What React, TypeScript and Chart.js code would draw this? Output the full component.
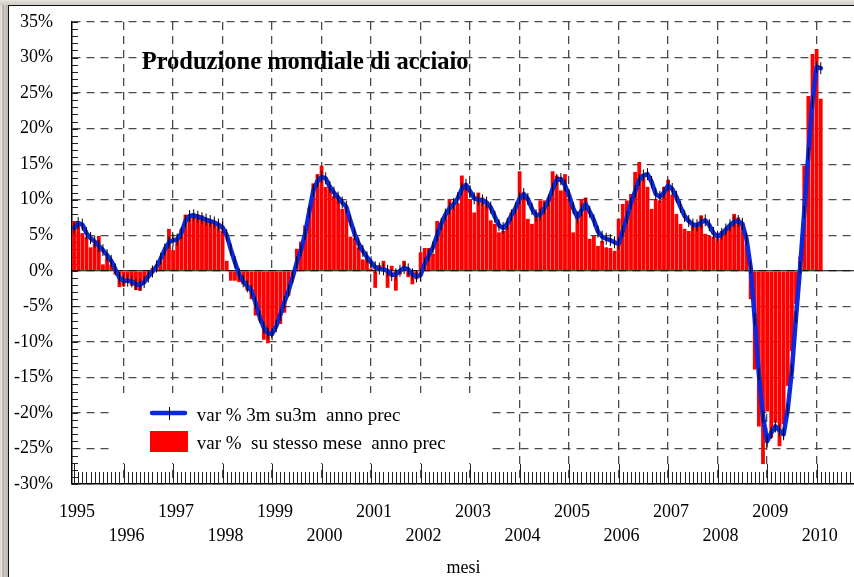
import React, { useEffect, useRef } from 'react';
import { Chart, registerables } from 'chart.js';

Chart.register(...registerables);

// ---------- data ----------
const TITLE = 'Produzione mondiale di acciaio';
const X_TITLE = 'mesi';
const YEAR_LABELS = [
  '1995', '1996', '1997', '1998', '1999', '2000', '2001', '2002',
  '2003', '2004', '2005', '2006', '2007', '2008', '2009', '2010',
];
const Y_MIN = -30;
const Y_MAX = 35;
const Y_STEP = 5;
const SERIES_LINE_LABEL = 'var % 3m su3m  anno prec';
const SERIES_BAR_LABEL = 'var %  su stesso mese  anno prec';

// monthly, Jan 1995 .. Feb 2010: var % su stesso mese anno prec
const MONTHLY_YOY = [
  7.0, 6.9, 5.3, 4.8, 3.3, 3.8, 4.9, 0.9, 1.9, 0.9, -0.5, -2.3,
  -2.2, -1.5, -2.1, -2.7, -2.8, -1.6, -0.8, 0.4, 0.7, 1.4, 3.3, 5.9,
  2.9, 4.3, 5.9, 7.9, 7.9, 8.0, 7.9, 7.8, 7.3, 7.1, 7.0, 6.4,
  5.6, 1.4, -1.4, -1.4, -1.6, -1.9, -2.8, -4.0, -6.3, -7.0, -9.7, -10.2,
  -8.8, -7.5, -7.5, -5.9, -3.5, -1.0, 3.1, 4.1, 6.4, 8.8, 12.3, 13.6,
  14.8, 11.8, 12.0, 10.5, 10.3, 8.7, 8.8, 4.8, 4.6, 3.3, 1.6, 2.0,
  0.3, -2.4, 0.8, 1.4, -2.4, 0.7, -2.8, -0.5, 1.4, -0.9, -1.9, -1.2,
  2.6, 3.2, 3.2, 2.4, 7.0, 6.4, 8.0, 10.1, 9.4, 9.5, 13.4, 12.2,
  10.0, 8.2, 11.0, 10.3, 9.6, 7.1, 6.6, 5.4, 5.6, 6.8, 8.2, 8.9,
  14.0, 10.8, 7.3, 6.6, 8.0, 9.9, 9.9, 10.3, 14.0, 13.4, 11.3, 13.6,
  10.1, 5.4, 7.8, 10.1, 10.3, 4.5, 4.9, 3.5, 4.2, 3.3, 3.2, 2.8,
  7.3, 9.4, 9.9, 10.8, 13.9, 15.3, 13.6, 11.8, 8.7, 10.1, 9.9, 11.8,
  12.8, 10.7, 8.0, 6.6, 5.9, 5.6, 6.4, 6.5, 7.8, 5.2, 4.9, 4.8,
  4.5, 5.6, 5.9, 6.4, 8.0, 7.5, 6.8, 3.7, -4.0, -13.9, -21.9, -27.2,
  -19.8, -23.5, -21.4, -24.7, -21.6, -16.2, -11.3, -4.7, 2.0, 14.8, 24.6, 30.5,
  31.2, 24.2,
];

// monthly, Jan 1995 .. Feb 2010: var % 3m su 3m anno prec
const THREE_MONTH_YOY = [
  6.0, 6.7, 6.5, 5.3, 4.6, 4.1, 3.5, 2.9, 2.2, 1.4, 0.2, -1.0,
  -1.4, -1.4, -1.5, -1.9, -2.0, -1.6, -0.8, -0.1, 0.6, 1.7, 3.0, 4.0,
  4.3, 4.4, 5.3, 7.0, 7.7, 7.8, 7.6, 7.4, 7.2, 7.0, 6.8, 6.5,
  6.1, 5.0, 3.0, 1.2, -0.5, -1.5, -2.2, -2.8, -4.5, -6.5, -8.0, -8.8,
  -8.9, -7.8, -6.2, -4.4, -2.8, -0.9, 1.2, 2.9, 5.2, 8.3, 11.3, 12.6,
  13.2, 13.0, 11.8, 11.0, 10.3, 9.6, 9.0, 7.0, 5.2, 3.8, 2.8, 1.9,
  1.2, 0.5, 0.3, 0.2, 0.0, -0.6, -0.5, 0.0, 0.4, 0.2, -0.5, -0.8,
  -0.6, 1.0, 2.2, 3.3, 5.0, 6.6, 7.9, 8.8, 9.4, 10.2, 11.5, 12.1,
  11.2, 10.2, 10.0, 9.9, 9.6, 8.9, 7.6, 6.4, 6.0, 6.6, 7.8, 8.8,
  10.2, 10.8, 10.1, 8.7, 7.8, 7.9, 8.8, 9.9, 11.5, 12.8, 12.9, 12.0,
  10.6, 8.8, 7.5, 8.5, 9.4, 8.3, 7.1, 5.5, 4.8, 4.5, 4.3, 4.0,
  3.8, 5.6, 7.5, 9.5, 11.2, 12.8, 13.4, 13.6, 12.5, 10.8, 10.4, 11.0,
  12.0, 11.5, 10.4, 9.0, 7.7, 7.0, 6.5, 6.4, 6.8, 7.1, 6.4, 5.3,
  4.8, 5.2, 5.8, 6.4, 6.9, 7.0, 6.6, 4.5, 0.5, -6.8, -14.6, -20.5,
  -24.0, -22.8, -21.9, -22.5, -23.0, -19.5, -14.0, -6.5, 0.5, 8.3, 16.5, 23.8,
  28.7, 28.5,
];

// ---------- styles ----------
const FONT = '"Liberation Serif", "Times New Roman", serif';
const BAR_COLOR = '#ff0000';
const LINE_COLOR = '#0a28e0';
const GRID_COLOR = '#4a4a4a';
const MONTHS_PER_YEAR = 12;
const X_MIN = -0.5;
const X_MAX = 189.3;
const CANVAS_W = 862;
const CANVAS_H = 577;

const decorPlugin = {
  id: 'decor',
  beforeDatasetsDraw(chart: any) {
    const { ctx, chartArea: a, scales } = chart;
    const x = scales.x;
    const y = scales.y;
    const line = (x1: number, y1: number, x2: number, y2: number) => {
      ctx.beginPath();
      ctx.moveTo(x1, y1);
      ctx.lineTo(x2, y2);
      ctx.stroke();
    };
    ctx.save();

    // legend backdrop (hides grid)
    ctx.fillStyle = '#ffffff';
    ctx.fillRect(110, 393, 379, 70);

    // zero line
    const y0 = y.getPixelForValue(0);
    ctx.strokeStyle = '#000';
    ctx.lineWidth = 1.2;
    line(a.left, y0, a.right, y0);

    // minor x ticks (months)
    ctx.strokeStyle = '#222';
    ctx.lineWidth = 1;
    for (let m = 0; m <= Math.floor(x.max); m++) {
      const px = Math.round(x.getPixelForValue(m)) + 0.5;
      const len = m % MONTHS_PER_YEAR === 0 ? 20 : 12;
      line(px, a.bottom, px, a.bottom - len);
    }
    // minor y ticks (1%)
    for (let v = Y_MIN; v <= Y_MAX; v++) {
      const py = Math.round(y.getPixelForValue(v)) + 0.5;
      line(a.left, py, a.left + 6, py);
    }

    // title
    ctx.fillStyle = '#000';
    ctx.font = `bold 24.5px ${FONT}`;
    ctx.textBaseline = 'alphabetic';
    ctx.textAlign = 'left';
    ctx.fillText(TITLE, 141.7, 68.5);

    // legend
    ctx.strokeStyle = LINE_COLOR;
    ctx.lineWidth = 4.5;
    ctx.lineCap = 'round';
    line(152, 413, 185, 413);
    ctx.lineCap = 'butt';
    ctx.strokeStyle = '#000';
    ctx.lineWidth = 1;
    line(169.5, 407, 169.5, 420);
    ctx.fillStyle = BAR_COLOR;
    ctx.fillRect(150, 431, 38, 21);
    ctx.fillStyle = '#000';
    ctx.font = `19px ${FONT}`;
    ctx.fillText(SERIES_LINE_LABEL, 196.7, 421);
    ctx.fillText(SERIES_BAR_LABEL, 196.7, 449);

    ctx.restore();
  },
};

const zeroPadding = (s: any) => {
  s.paddingTop = 0;
  s.paddingBottom = 0;
  s.paddingLeft = 0;
  s.paddingRight = 0;
};

export default function App() {
  const canvasRef = useRef<HTMLCanvasElement | null>(null);

  useEffect(() => {
    const canvas = canvasRef.current;
    if (!canvas) return;
    const barData = MONTHLY_YOY.map((v, i) => ({ x: i, y: v }));
    const lineData = THREE_MONTH_YOY.map((v, i) => ({ x: i, y: v }));

    const chart = new Chart(canvas, {
      type: 'bar',
      data: {
        datasets: [
          {
            type: 'line',
            label: SERIES_LINE_LABEL,
            data: lineData,
            borderColor: LINE_COLOR,
            backgroundColor: LINE_COLOR,
            borderWidth: 4.5,
            tension: 0,
            fill: false,
            borderJoinStyle: 'round',
            borderCapStyle: 'round',
            pointStyle: 'line',
            pointRotation: 90,
            pointRadius: 6,
            pointBorderColor: '#000',
            pointBorderWidth: 1,
            order: 1,
          } as any,
          {
            type: 'bar',
            label: SERIES_BAR_LABEL,
            data: barData,
            backgroundColor: BAR_COLOR,
            borderWidth: 0,
            barPercentage: 0.92,
            categoryPercentage: 1,
            order: 2,
          } as any,
        ],
      },
      options: {
        responsive: false,
        devicePixelRatio: 1,
        animation: false,
        events: [],
        layout: { padding: { top: 22, left: 0, right: 0, bottom: 0 } },
        plugins: {
          legend: { display: false },
          title: { display: false },
          tooltip: { enabled: false },
        },
        scales: {
          x: {
            type: 'linear',
            min: X_MIN,
            max: X_MAX,
            offset: false,
            afterBuildTicks: (s: any) => {
              s.ticks = YEAR_LABELS.map((_, k) => ({ value: k * MONTHS_PER_YEAR }));
            },
            afterFit: (s: any) => {
              s.height = 93;
              zeroPadding(s);
            },
            grid: {
              color: (c: any) =>
                c.tick && c.tick.value === 0 ? 'rgba(0,0,0,0)' : GRID_COLOR,
              lineWidth: 1.3,
              drawTicks: false,
              offset: false,
            },
            border: { display: true, color: '#000', width: 1.5, dash: [8, 6] },
            ticks: {
              autoSkip: false,
              maxRotation: 0,
              minRotation: 0,
              padding: 16,
              labelOffset: 3,
              color: '#000',
              font: { family: FONT, size: 18, lineHeight: 1.35 },
              callback: (v: any) => {
                const k = Math.round(Number(v) / MONTHS_PER_YEAR);
                const yr = YEAR_LABELS[k] ?? '';
                return k % 2 === 0 ? [yr, ''] : ['', yr];
              },
            },
            title: {
              display: true,
              text: X_TITLE,
              color: '#000',
              font: { family: FONT, size: 18, lineHeight: 1 },
              padding: 0,
            },
          },
          y: {
            type: 'linear',
            min: Y_MIN,
            max: Y_MAX,
            afterFit: (s: any) => {
              s.width = 72;
              zeroPadding(s);
            },
            ticks: {
              stepSize: Y_STEP,
              padding: 19,
              color: '#000',
              font: { family: FONT, size: 18 },
              callback: (v: any) => `${v}%`,
            },
            grid: { color: GRID_COLOR, lineWidth: 1.3, drawTicks: false },
            border: { display: true, color: '#000', width: 1.5, dash: [8, 6] },
          },
        },
      } as any,
      plugins: [decorPlugin],
    });
    return () => chart.destroy();
  }, []);

  return (
    <div
      style={{
        position: 'fixed',
        left: 0,
        top: 0,
        width: 854,
        height: 577,
        overflow: 'hidden',
        background: 'linear-gradient(90deg, #d9d5cd 0px, #eeebe5 2px, #8f8b84 3px, #d2cec6 4px, #bdb9b1 7px)',
      }}
    >
      <div
        style={{
          position: 'absolute',
          left: 0,
          top: 0,
          width: 854,
          height: 5,
          background: 'linear-gradient(180deg, #e6e3dd, #cfccc6)',
        }}
      />
      <div
        style={{
          position: 'absolute',
          left: 8,
          top: 5,
          right: 0,
          bottom: 0,
          background: '#ffffff',
          borderLeft: '1.5px solid #111',
          borderTop: '1.5px solid #111',
        }}
      />
      <canvas
        ref={canvasRef}
        width={CANVAS_W}
        height={CANVAS_H}
        style={{ position: 'absolute', left: 0, top: 0, width: CANVAS_W, height: CANVAS_H }}
      />
    </div>
  );
}
